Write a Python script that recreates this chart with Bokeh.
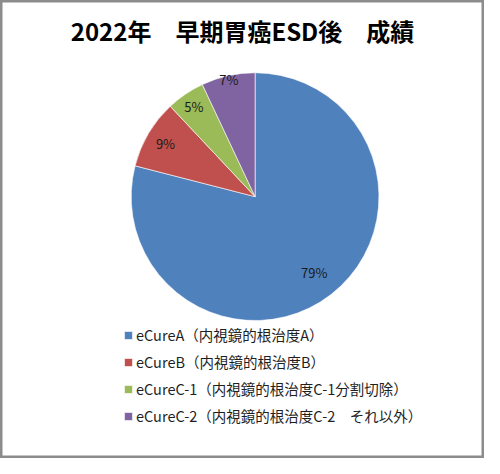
import numpy as np
from bokeh.plotting import figure
from bokeh.models import Range1d, ColumnDataSource, Legend, LegendItem
from bokeh.core.properties import value
from bokeh.embed import file_html
from bokeh.resources import INLINE

title_text = "2022年　早期胃癌ESD後　成績"
categories = [
    "eCureA（内視鏡的根治度A）",
    "eCureB（内視鏡的根治度B）",
    "eCureC-1（内視鏡的根治度C-1分割切除）",
    "eCureC-2（内視鏡的根治度C-2　それ以外）",
]
shares = [79, 9, 5, 7]
colors = ["#4F81BD", "#C0504D", "#9BBB59", "#8064A2"]

# layout (design units ~ reference pixels, y up)
W, H = 500, 474
cx, cy, R = 263, 271, 128
label_r = [0.78, 0.84, 0.88, 0.97]
FONT = "Noto Sans CJK JP"

p = figure(width=484, height=458, x_range=Range1d(0, W), y_range=Range1d(0, H),
           x_axis_location=None, y_axis_location=None,
           toolbar_location=None, output_backend="svg", min_border=0,
           outline_line_color="#8c8c8c", outline_line_width=4,
           background_fill_color="white", border_fill_color="white")
p.grid.visible = False

frac = np.array(shares, dtype=float) / sum(shares)
cum = np.concatenate([[0.0], np.cumsum(frac)])
start = np.pi / 2 - 2 * np.pi * cum[:-1]
end = np.pi / 2 - 2 * np.pi * cum[1:]
src = ColumnDataSource(dict(start=start, end=end, color=colors, label=categories))
wr = p.wedge(x=cx, y=cy, radius=R, start_angle="start", end_angle="end",
             direction="clock", fill_color="color", line_color="white",
             line_width=0.6, source=src)

mid = (start + end) / 2
lr = np.array(label_r) * R
p.text(x=cx + lr * np.cos(mid), y=cy + lr * np.sin(mid),
       text=[f"{f * 100:.0f}%" for f in frac],
       text_align="center", text_baseline="middle",
       text_font=value(FONT), text_font_size="13px", text_color="#1a1a1a")

p.text(x=[W / 2], y=[H - 31], text=[title_text], text_align="center",
       text_baseline="middle", text_font=value(FONT), text_font_style="bold",
       text_font_size="24px", text_color="#000000")

legend = Legend(items=[LegendItem(label=c, renderers=[wr], index=i) for i, c in enumerate(categories)],
                location=(123, 32), orientation="vertical",
                glyph_width=10, glyph_height=10, label_standoff=3,
                label_height=20, spacing=6, padding=0, margin=0,
                border_line_alpha=0, background_fill_alpha=0,
                label_text_font=FONT, label_text_font_size="14.5px",
                label_text_color="#1f1f1f")
p.add_layout(legend)

open("out.html", "w").write(file_html(p, INLINE))
